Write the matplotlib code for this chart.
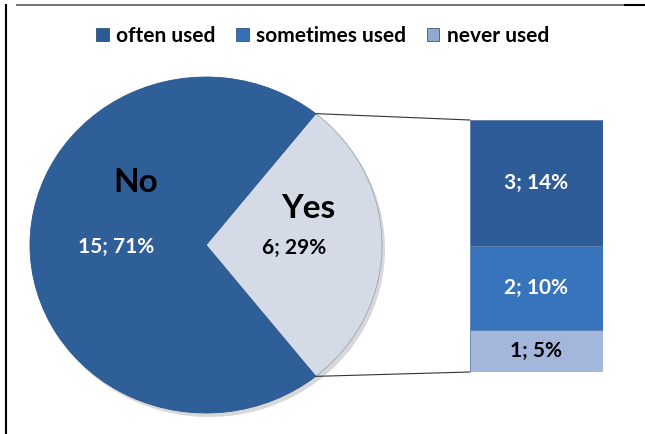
import matplotlib.pyplot as plt
from matplotlib.patches import ConnectionPatch, Patch
import numpy as np

plt.rcParams['font.family'] = ['Lato', 'DejaVu Sans']

# pie: do students use it at all
pie_labels = ['Yes', 'No']
pie_counts = [6, 15]
pie_pcts = [29, 71]

# breakdown of the "Yes" answers, stacked bottom to top
bar_labels = ['never used', 'sometimes used', 'often used']
bar_counts = [1, 2, 3]
bar_pcts = [5, 10, 14]

legend_labels = ['often used', 'sometimes used', 'never used']

pie_colors = ['#D5DAE7', '#2F5F98']
bar_colors = ['#A3B7DC', '#3874BC', '#2D5C98']
legend_colors = ['#2B5B95', '#3571B6', '#8FA9D2']

fig = plt.figure(figsize=(6.45, 4.34), dpi=100)

# soft shadow behind the pie
ax_sh = fig.add_axes([33 / 645, 17 / 434, 352 / 645, 336 / 434])
ax_sh.pie([1], colors=['#D8D8D8'], radius=1)
ax_sh.set_xlim(-1, 1)
ax_sh.set_ylim(-1, 1)
ax_sh.set_aspect('auto')
ax_sh.axis('off')

# pie axes (slightly wider than tall)
ax_pie = fig.add_axes([30 / 645, 21 / 434, 352 / 645, 336 / 434])
yes_angle = 360 * pie_counts[0] / sum(pie_counts)
wedges, _ = ax_pie.pie(pie_counts, colors=pie_colors, startangle=-yes_angle / 2,
                       counterclock=True, radius=1,
                       wedgeprops=dict(edgecolor='#9AA3B5', linewidth=0.6))
wedges[1].set_edgecolor('#2A568C')
ax_pie.set_xlim(-1, 1)
ax_pie.set_ylim(-1, 1)
ax_pie.set_aspect('auto')
ax_pie.axis('off')

ax_pie.text(-0.40, 0.37, pie_labels[1], fontsize=24, fontweight='bold', color='black',
            ha='center', va='center')
ax_pie.text(-0.51, -0.01, f'{pie_counts[1]}; {pie_pcts[1]}%', fontsize=15,
            fontweight='bold', color='white', ha='center', va='center')
ax_pie.text(0.58, 0.22, pie_labels[0], fontsize=24, fontweight='bold', color='black',
            ha='center', va='center')
ax_pie.text(0.50, -0.02, f'{pie_counts[0]}; {pie_pcts[0]}%', fontsize=15,
            fontweight='bold', color='black', ha='center', va='center')

# stacked bar for the "Yes" slice
ax_bar = fig.add_axes([470 / 645, 62 / 434, 133 / 645, 252 / 434])
bottom = 0
for cnt, pct, col, lab in zip(bar_counts, bar_pcts, bar_colors, bar_labels):
    ax_bar.bar(0.5, cnt, width=1, bottom=bottom, color=col, edgecolor='#5F80AC',
               linewidth=0.6)
    txt_col = 'black' if lab == 'never used' else 'white'
    ax_bar.text(0.5, bottom + cnt / 2, f'{cnt}; {pct}%', fontsize=15,
                fontweight='bold', color=txt_col, ha='center', va='center')
    bottom += cnt
ax_bar.set_xlim(0, 1)
ax_bar.set_ylim(0, sum(bar_counts))
ax_bar.axis('off')

# lines from the slice edges to the bar corners
theta = np.deg2rad(yes_angle / 2)
for sign, ybar in [(1, sum(bar_counts)), (-1, 0)]:
    con = ConnectionPatch(xyA=(np.cos(theta), sign * np.sin(theta)), coordsA=ax_pie.transData,
                          xyB=(0, ybar), coordsB=ax_bar.transData,
                          color='#333333', linewidth=0.8)
    fig.add_artist(con)

# legend
handles = [Patch(facecolor=c, edgecolor='#1F3F66', linewidth=0.5) for c in legend_colors]
fig.legend(handles, legend_labels, loc='center',
           bbox_to_anchor=(0.5, 1 - 36 / 434), ncol=3, frameon=False,
           prop=dict(size=15, weight='bold'), handlelength=0.6, handleheight=0.6,
           handletextpad=0.35, columnspacing=1.0)

# outer frame lines
fig.add_artist(plt.Line2D([6 / 645, 6 / 645], [0, 1 - 5 / 434], color='black', linewidth=1.5))
fig.add_artist(plt.Line2D([17 / 645, 625 / 645], [1 - 5 / 434, 1 - 5 / 434], color='#777777',
                          linewidth=1.5))
fig.add_artist(plt.Line2D([625 / 645, 1], [1 - 5 / 434, 1 - 5 / 434], color='black',
                          linewidth=1.5))

fig.savefig('out.png', dpi=100)
